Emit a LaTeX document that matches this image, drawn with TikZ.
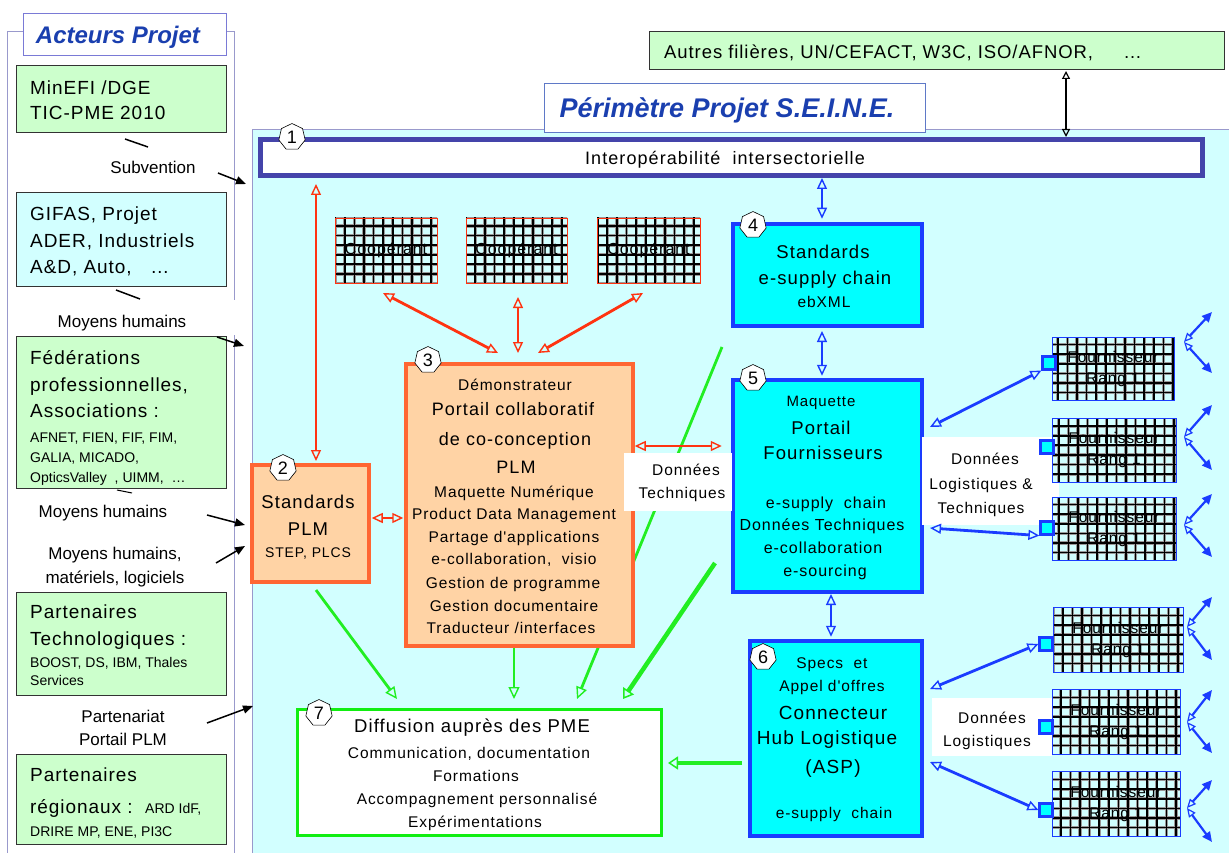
\documentclass[tikz,border=0pt]{standalone}
\usepackage{fontspec}
\setmainfont{Liberation Sans}
\newfontfamily\aff[LetterSpace=5]{Liberation Sans}
\newfontfamily\bxf[LetterSpace=6]{Liberation Sans}
\newfontfamily\ttf{Liberation Sans}
\usetikzlibrary{arrows.meta,shapes.geometric}
\definecolor{lgreen}{HTML}{CCFFCC}
\definecolor{lcyan}{HTML}{D2FFFF}
\definecolor{cyanb}{HTML}{00FFFF}
\definecolor{blueb}{HTML}{1A3CFF}
\definecolor{navyb}{HTML}{4444AA}
\definecolor{titleblue}{HTML}{1A3FAF}
\definecolor{orfill}{HTML}{FFD3A5}
\definecolor{ordraw}{HTML}{FF6633}
\definecolor{redar}{HTML}{FF3311}
\definecolor{greenar}{HTML}{22EE22}
\definecolor{greenb}{HTML}{11EE11}
\definecolor{framec}{HTML}{9999CC}
\newcommand\tx[6]{\node[anchor=#2,inner sep=0pt,yshift=-#4*0.36pt,font=#3\fontsize{#4}{#4}\selectfont] (#1) at (#5) {#6};}
\newcommand\boxat[7]{%
 \pgfmathsetmacro\bxcx{(#3+#5)/2}%
 \pgfmathsetmacro\bxcy{(#4+#6)/2}%
 \pgfmathsetmacro\bxw{#5-#3}%
 \pgfmathsetmacro\bxh{#6-#4}%
 \node[#1,minimum width=\bxw pt,minimum height=\bxh pt,inner sep=0pt] (#2) at (\bxcx,\bxcy) {#7};}
\begin{document}
\begin{tikzpicture}[x=1pt,y=-1pt,
 abox/.style={draw=black!80,line width=0.8pt},
 gridbg/.style={fill=lcyan, path picture={
   \draw[black!40,line width=3.2pt,step=9.6pt] ([shift={(-12pt,-12pt)}]path picture bounding box.south west) grid ([shift={(12pt,12pt)}]path picture bounding box.north east);
   \draw[black,line width=1.7pt,step=9.6pt] ([shift={(-12pt,-12pt)}]path picture bounding box.south west) grid ([shift={(12pt,12pt)}]path picture bounding box.north east);}},
 coop/.style={gridbg,draw=redar,line width=0.8pt,font=\bxf\fontsize{16}{16}\selectfont},
 fourn/.style={gridbg,draw=blueb,line width=1pt,align=center,font=\bxf\fontsize{15.5}{21}\selectfont},
 obox/.style={draw=ordraw,fill=orfill,line width=3.5pt},
 cbox/.style={draw=blueb,fill=cyanb,line width=4.5pt},
 sq/.style={draw=blueb,fill=cyanb,line width=2.2pt,minimum size=13pt,inner sep=0pt},
 badge/.style={regular polygon,regular polygon sides=7,draw=black,fill=white,line width=0.6pt,inner sep=0pt,minimum size=27pt,font=\ttf\fontsize{18}{18}\selectfont},
 blkarr/.style={draw=black,line width=1.5pt,-{Triangle[length=10pt,width=8pt]}},
 kdbl/.style={draw=black,line width=2pt,{Triangle[open,length=8pt,width=8pt,line width=1.2pt]}-{Triangle[open,length=8pt,width=8pt,line width=1.2pt]}},
 rarr/.style={draw=redar,line width=2.8pt,{Triangle[open,length=11pt,width=10pt,line width=1.4pt]}-{Triangle[open,length=11pt,width=10pt,line width=1.4pt]}},
 barr/.style={draw=blueb,line width=2.8pt,{Triangle[open,length=11pt,width=10pt,line width=1.4pt]}-{Triangle[open,length=11pt,width=10pt,line width=1.4pt]}},
 bfan/.style={draw=blueb,line width=2.2pt,{Triangle[open,length=9pt,width=8pt,line width=1.2pt]}-{Triangle[length=10pt,width=9pt]}},
 garr/.style={draw=greenar,line width=2.8pt,-{Triangle[open,length=12pt,width=11pt,line width=1.4pt]}},
 gthick/.style={draw=greenar,line width=4.5pt,-{Triangle[open,length=10pt,width=13pt,line width=1.5pt]}}
]
\useasboundingbox (0,0) rectangle (1229,853);
\fill[white] (0,0) rectangle (1229,853);

% ---------- left panel ----------
\draw[framec,line width=0.9pt] (23,31) -- (7,31) -- (7,860);
\draw[framec,line width=0.9pt] (226,31) -- (234,31) -- (234,300);
\draw[framec,line width=0.9pt] (234,335) -- (234,860);
\boxat{draw=framec!80!blue,fill=white,line width=0.9pt}{tA}{23}{13}{226}{55}{}
\tx{tAt}{base}{\ttf\bfseries\itshape}{24}{118,35}{\color{titleblue}Acteurs Projet}

\boxat{abox,fill=lgreen}{a1}{16}{65}{226}{132}{}
\tx{a1a}{base west}{\aff}{19}{30,88}{MinEFI /DGE}
\tx{a1b}{base west}{\aff}{19}{30,113}{TIC-PME 2010}

\boxat{abox,fill=lcyan}{a2}{16}{192}{226}{286}{}
\tx{a2a}{base west}{\aff}{19}{30,214}{GIFAS, Projet}
\tx{a2b}{base west}{\aff}{19}{30,241}{ADER, Industriels}
\tx{a2c}{base west}{\aff}{19}{30,267}{A\&D, Auto,\ \ \ …}

\boxat{abox,fill=lgreen}{a3}{16}{336}{226}{488}{}
\tx{a3a}{base west}{\aff}{19}{30,358}{Fédérations}
\tx{a3b}{base west}{\aff}{19}{30,385}{professionnelles,}
\tx{a3c}{base west}{\aff}{19}{30,411}{Associations :}
\tx{a3d}{base west}{\ttf}{14}{30,437}{AFNET, FIEN, FIF, FIM,}
\tx{a3e}{base west}{\ttf}{14}{30,457}{GALIA, MICADO,}
\tx{a3f}{base west}{\ttf}{14}{30,477}{OpticsValley\ \ , UIMM,\ \ …}

\boxat{abox,fill=lgreen}{a4}{16}{592}{226}{695}{}
\tx{a4a}{base west}{\aff}{19}{30,612}{Partenaires}
\tx{a4b}{base west}{\aff}{19}{30,639}{Technologiques :}
\tx{a4c}{base west}{\ttf}{14}{30,662}{BOOST, DS, IBM, Thales}
\tx{a4d}{base west}{\ttf}{14}{30,680}{Services}

\boxat{abox,fill=lgreen}{a5}{16}{754}{226}{844}{}
\tx{a5a}{base west}{\aff}{19}{30,775}{Partenaires}
\tx{a5b}{base west}{\aff}{19}{30,807}{régionaux :\ \ {\ttf\fontsize{14}{14}\selectfont ARD IdF,}}
\tx{a5c}{base west}{\ttf}{14}{30,831}{DRIRE MP, ENE, PI3C}

\tx{l1}{base}{\ttf}{17}{153,167}{Subvention}
\tx{l2}{base}{\ttf}{17}{122,321}{Moyens humains}
\tx{l3}{base}{\ttf}{17}{103,511}{Moyens humains}
\tx{l4}{base}{\ttf}{17}{115,553}{Moyens humains,}
\tx{l5}{base}{\ttf}{17}{115,577}{matériels, logiciels}
\tx{l6}{base}{\ttf}{17}{123,716}{Partenariat}
\tx{l7}{base}{\ttf}{17}{123,739}{Portail PLM}

\coordinate (m1a) at (125,139); \coordinate (m1b) at (148,147);
\coordinate (m2a) at (116,290); \coordinate (m2b) at (140,299);
\coordinate (m3a) at (117,490); \coordinate (m3b) at (132,493);
\draw[line width=1.5pt] (m1a) -- (m1b);
\draw[line width=1.5pt] (m2a) -- (m2b);
\draw[line width=1pt] (m3a) -- (m3b);

% ---------- perimeter ----------
\boxat{draw=framec,fill=lcyan,line width=0.9pt}{per}{252}{129}{1245}{870}{}
\boxat{draw=titleblue!70,fill=white,line width=0.9pt}{pt}{544}{83}{925}{132}{}
\tx{ptt}{base}{\ttf\bfseries\itshape}{27}{727,108}{\color{titleblue}Périmètre Projet S.E.I.N.E.}

\coordinate (s1) at (218,173); \coordinate (e1) at (246,184);
\coordinate (s2) at (217,337); \coordinate (e2) at (244,346);
\coordinate (s3) at (207,515); \coordinate (e3) at (245,525);
\coordinate (s4) at (216,563); \coordinate (e4) at (245,546);
\coordinate (s5) at (207,723); \coordinate (e5) at (253,706);
\draw[blkarr] (s1) -- (e1);
\draw[blkarr] (s2) -- (e2);
\draw[blkarr] (s3) -- (e3);
\draw[blkarr] (s4) -- (e4);
\draw[blkarr] (s5) -- (e5);

% Autres filieres
\boxat{abox,fill=lgreen}{au}{649}{31}{1224}{69}{}
\tx{aut}{base west}{\aff}{18.5}{664,52}{Autres filières, UN/CEFACT, W3C, ISO/AFNOR,\ \ \ \ \ …}

% box 1
\boxat{draw=navyb,fill=white,line width=5pt}{b1}{260}{140}{1202}{176}{}
\tx{b1t}{base}{\bxf}{18}{725,158}{Interopérabilité\ \ intersectorielle}
\coordinate (k1) at (1066,71); \coordinate (k2) at (1066,137);
\draw[kdbl] (k1) -- (k2);

% cooperants
\boxat{coop}{c1}{335}{218}{437}{283}{Coopérant}
\boxat{coop}{c2}{466}{218}{567}{283}{Coopérant}
\boxat{coop}{c3}{597}{218}{700}{283}{Coopérant}

% green arrows behind boxes
\coordinate (g3a) at (722,347); \coordinate (g3b) at (577,699);
\coordinate (g4a) at (715,563); \coordinate (g4b) at (623,699);
\draw[garr] (g3a) -- (g3b);
\draw[gthick] (g4a) -- (g4b);

% orange boxes
\boxat{obox}{b2}{252}{465}{369}{582}{}
\tx{b2a}{base}{\bxf}{18.5}{308,502}{Standards}
\tx{b2b}{base}{\bxf}{18.5}{308,529}{PLM}
\tx{b2c}{base}{\bxf}{14}{308,552}{STEP, PLCS}

\boxat{obox}{b3}{406}{364}{633}{646}{}
\tx{b3a}{base}{\bxf}{15.5}{515,385}{Démonstrateur}
\tx{b3b}{base}{\bxf}{18}{513,409}{Portail collaboratif}
\tx{b3c}{base}{\bxf}{18}{515,439}{de co-conception}
\tx{b3d}{base}{\bxf}{18}{516,467}{PLM}
\tx{b3e}{base}{\bxf}{15.5}{514,492}{Maquette Numérique}
\tx{b3f}{base}{\bxf}{15.5}{514,514}{Product Data Management}
\tx{b3g}{base}{\bxf}{15.5}{514,537}{Partage d'applications}
\tx{b3h}{base}{\bxf}{15.5}{514,559}{e-collaboration,\ \ visio}
\tx{b3i}{base}{\bxf}{15.5}{513,583}{Gestion de programme}
\tx{b3j}{base}{\bxf}{15.5}{514,606}{Gestion documentaire}
\tx{b3k}{base}{\bxf}{15.5}{511,628}{Traducteur /interfaces}

% cyan boxes
\boxat{cbox}{b4}{733}{224}{922}{326}{}
\tx{b4a}{base}{\bxf}{18.5}{823,252}{Standards}
\tx{b4b}{base}{\bxf}{18.5}{825,278}{e-supply chain}
\tx{b4c}{base}{\bxf}{15.5}{824,302}{ebXML}

\boxat{cbox}{b5}{733}{380}{922}{592}{}
\tx{b5a}{base}{\bxf}{15}{821,401}{Maquette}
\tx{b5b}{base}{\bxf}{18.5}{821,428}{Portail}
\tx{b5c}{base}{\bxf}{18.5}{823,453}{Fournisseurs}
\tx{b5d}{base}{\bxf}{16}{826,503}{e-supply\ \ chain}
\tx{b5e}{base}{\bxf}{16}{822,525}{Données Techniques}
\tx{b5f}{base}{\bxf}{16}{823,548}{e-collaboration}
\tx{b5g}{base}{\bxf}{16}{825,571}{e-sourcing}

\boxat{cbox}{b6}{750}{641}{922}{836}{}
\tx{b6a}{base}{\bxf}{15.5}{832,663}{Specs\ \ et}
\tx{b6b}{base}{\bxf}{15.5}{832,686}{Appel d'offres}
\tx{b6c}{base}{\bxf}{19}{833,713}{Connecteur}
\tx{b6d}{base}{\bxf}{19}{827,738}{Hub Logistique}
\tx{b6e}{base}{\bxf}{19}{833,767}{(ASP)}
\tx{b6f}{base}{\bxf}{15.5}{834,813}{e-supply\ \ chain}

% box 7
\boxat{draw=greenb,fill=white,line width=3pt}{b7}{297}{709}{661}{835}{}
\tx{b7a}{base}{\bxf}{18.5}{472,726}{Diffusion auprès des PME}
\tx{b7b}{base}{\bxf}{15.5}{469,753}{Communication, documentation}
\tx{b7c}{base}{\bxf}{15.5}{476,776}{Formations}
\tx{b7d}{base}{\bxf}{15.5}{477,799}{Accompagnement personnalisé}
\tx{b7e}{base}{\bxf}{15.5}{475,822}{Expérimentations}

% white labels
\boxat{fill=white}{dt}{624}{453}{732}{511}{}
\tx{dta}{base}{\bxf}{15.5}{686,470}{Données}
\tx{dtb}{base}{\bxf}{15.5}{682,493}{Techniques}
\boxat{fill=white}{dlt}{922}{437}{1059}{525}{}
\tx{dlta}{base}{\bxf}{15.5}{985,459}{Données}
\tx{dltb}{base}{\bxf}{15.5}{981,484}{Logistiques \&}
\tx{dltc}{base}{\bxf}{15.5}{981,508}{Techniques}
\boxat{fill=white}{dl}{932}{698}{1052}{756}{}
\tx{dla}{base}{\bxf}{15.5}{992,718}{Données}
\tx{dlb}{base}{\bxf}{15.5}{987,741}{Logistiques}

% red arrows
\coordinate (rv1) at (316,184); \coordinate (rv2) at (316,461);
\draw[rarr] (rv1) -- (rv2);
\coordinate (rc1) at (498,353); \coordinate (rc1e) at (383,293);
\coordinate (rc2) at (518,353); \coordinate (rc2e) at (518,297);
\coordinate (rc3) at (538,353); \coordinate (rc3e) at (643,293);
\draw[rarr] (rc1) -- (rc1e);
\draw[rarr] (rc2) -- (rc2e);
\draw[rarr] (rc3) -- (rc3e);
\draw[rarr,shorten <=1pt,shorten >=1pt] (b2.east |- 0,518) -- (b3.west |- 0,518);
\draw[rarr,shorten <=0pt,shorten >=9pt] (b3.east |- 0,446) -- (b5.west |- 0,446);

% blue vertical arrows
\draw[barr,shorten <=2pt,shorten >=3pt] (822,176) coordinate (bv1) -- (b4.north -| bv1);
\draw[barr,shorten <=5pt,shorten >=2pt] (822,326) coordinate (bv2) -- (b5.north -| bv2);
\draw[barr,shorten <=2pt,shorten >=2pt] (831,592) coordinate (bv3) -- (b6.north -| bv3);

% green arrows front
\coordinate (g1a) at (316,590); \coordinate (g1b) at (397,699);
\coordinate (g2a) at (514,648); \coordinate (g2b) at (514,699);
\coordinate (g5a) at (742,763); \coordinate (g5b) at (668,763);
\draw[garr] (g1a) -- (g1b);
\draw[garr] (g2a) -- (g2b);
\draw[gthick] (g5a) -- (g5b);

% fournisseurs
\boxat{fourn}{f1}{1052}{337}{1174}{400}{Fournisseur\\Rang 1}
\boxat{fourn}{f2}{1052}{418}{1176}{482}{Fournisseur\\Rang 1}
\boxat{fourn}{f3}{1052}{497}{1176}{560}{Fournisseur\\Rang 1}
\boxat{fourn}{f4}{1053}{607}{1183}{672}{Fournisseur\\Rang 1}
\boxat{fourn}{f5}{1052}{689}{1180}{754}{Fournisseur\\Rang 1}
\boxat{fourn}{f6}{1052}{771}{1180}{836}{Fournisseur\\Rang 1}
\node[sq] (q1) at (1049,363) {};
\node[sq] (q2) at (1047,447) {};
\node[sq] (q3) at (1047,528) {};
\node[sq] (q4) at (1046,644) {};
\node[sq] (q5) at (1046,727) {};
\node[sq] (q6) at (1046,810) {};

\coordinate (p1) at (930,427); \coordinate (p2) at (930,528);
\coordinate (p3) at (930,689); \coordinate (p4) at (930,762);
\draw[barr] (p1) -- (q1.south west);
\draw[barr] (p2) -- (q3.south west);
\draw[barr] (p3) -- (q4.west);
\draw[barr] (p4) -- (q6.west);

\foreach \i/\hx/\hy/\uy/\dy in {1/1184/342/312/373,2/1184/437/405/470,3/1184/525/494/557,4/1187/627/597/660,5/1187/722/690/753,6/1187/808/780/842}{
  \coordinate (h\i) at (\hx,\hy);
  \coordinate (hu\i) at (1212,\uy);
  \coordinate (hd\i) at (1212,\dy);
  \draw[bfan] (h\i) -- (hu\i);
  \draw[bfan] (h\i) -- (hd\i);
}

% badges
\node[badge] (n1) at (292,137) {1};
\node[badge] (n2) at (283,468) {2};
\node[badge] (n3) at (428,360) {3};
\node[badge] (n4) at (753,225) {4};
\node[badge] (n5) at (753,378) {5};
\node[badge] (n6) at (763,657) {6};
\node[badge] (n7) at (319,713) {7};
\end{tikzpicture}
\end{document}
